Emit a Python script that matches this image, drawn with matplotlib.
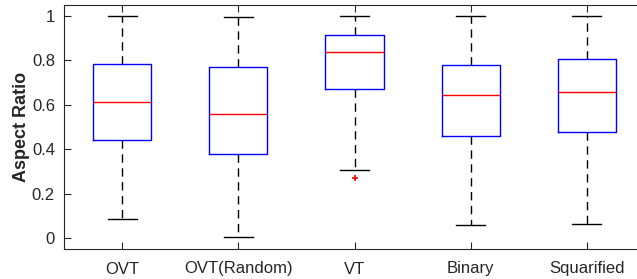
import matplotlib
matplotlib.use("Agg")
import matplotlib.pyplot as plt

categories = ["OVT", "OVT(Random)", "VT", "Binary", "Squarified"]
whislo = [0.086, 0.003, 0.306, 0.057, 0.062]
q1 = [0.440, 0.380, 0.671, 0.459, 0.477]
med = [0.614, 0.560, 0.839, 0.643, 0.656]
q3 = [0.782, 0.770, 0.916, 0.781, 0.808]
whishi = [1.0, 0.998, 1.0, 1.0, 1.0]
fliers = [[], [], [0.272], [], []]

plt.rcParams['font.family'] = ['Liberation Sans', 'DejaVu Sans']

W, H = 637, 279
fig = plt.figure(figsize=(W / 100, H / 100), dpi=100)
ax = fig.add_axes([64 / W, 1 - 249 / H, (645 - 64) / W, (249 - 5) / H])

stats = []
for i, c in enumerate(categories):
    stats.append(dict(label=c, whislo=whislo[i], q1=q1[i], med=med[i],
                      q3=q3[i], whishi=whishi[i], fliers=fliers[i]))

ax.bxp(stats, positions=range(1, len(categories) + 1), widths=0.5,
       showfliers=True,
       boxprops=dict(color='#0000ff', linewidth=1.0),
       medianprops=dict(color='#ff0000', linewidth=1.0),
       whiskerprops=dict(color='black', linewidth=1.0, linestyle=(0, (6, 4))),
       capprops=dict(color='black', linewidth=1.0),
       capwidths=0.25,
       flierprops=dict(marker='+', markeredgecolor='#ff0000', markersize=5,
                       markeredgewidth=1.2, linestyle='none'))

ax.set_xlim(0.5, 5.5)
ax.set_ylim(-0.05, 1.05)
ax.set_yticks([0, 0.2, 0.4, 0.6, 0.8, 1.0])
ax.set_yticklabels(["0", "0.2", "0.4", "0.6", "0.8", "1"])
ax.set_xticks(range(1, len(categories) + 1))
ax.set_xticklabels(categories)
ax.tick_params(direction='in', length=5, width=0.8, colors='#262626',
               labelsize=12, top=True, right=True)
ax.tick_params(axis='y', pad=6.5)
ax.tick_params(axis='x', pad=9)
for s in ax.spines.values():
    s.set_color('#262626')
    s.set_linewidth(0.8)
ax.set_ylabel("Aspect Ratio", fontsize=13, fontweight='bold', color='#262626', labelpad=1)

fig.savefig("out.png", dpi=100)
